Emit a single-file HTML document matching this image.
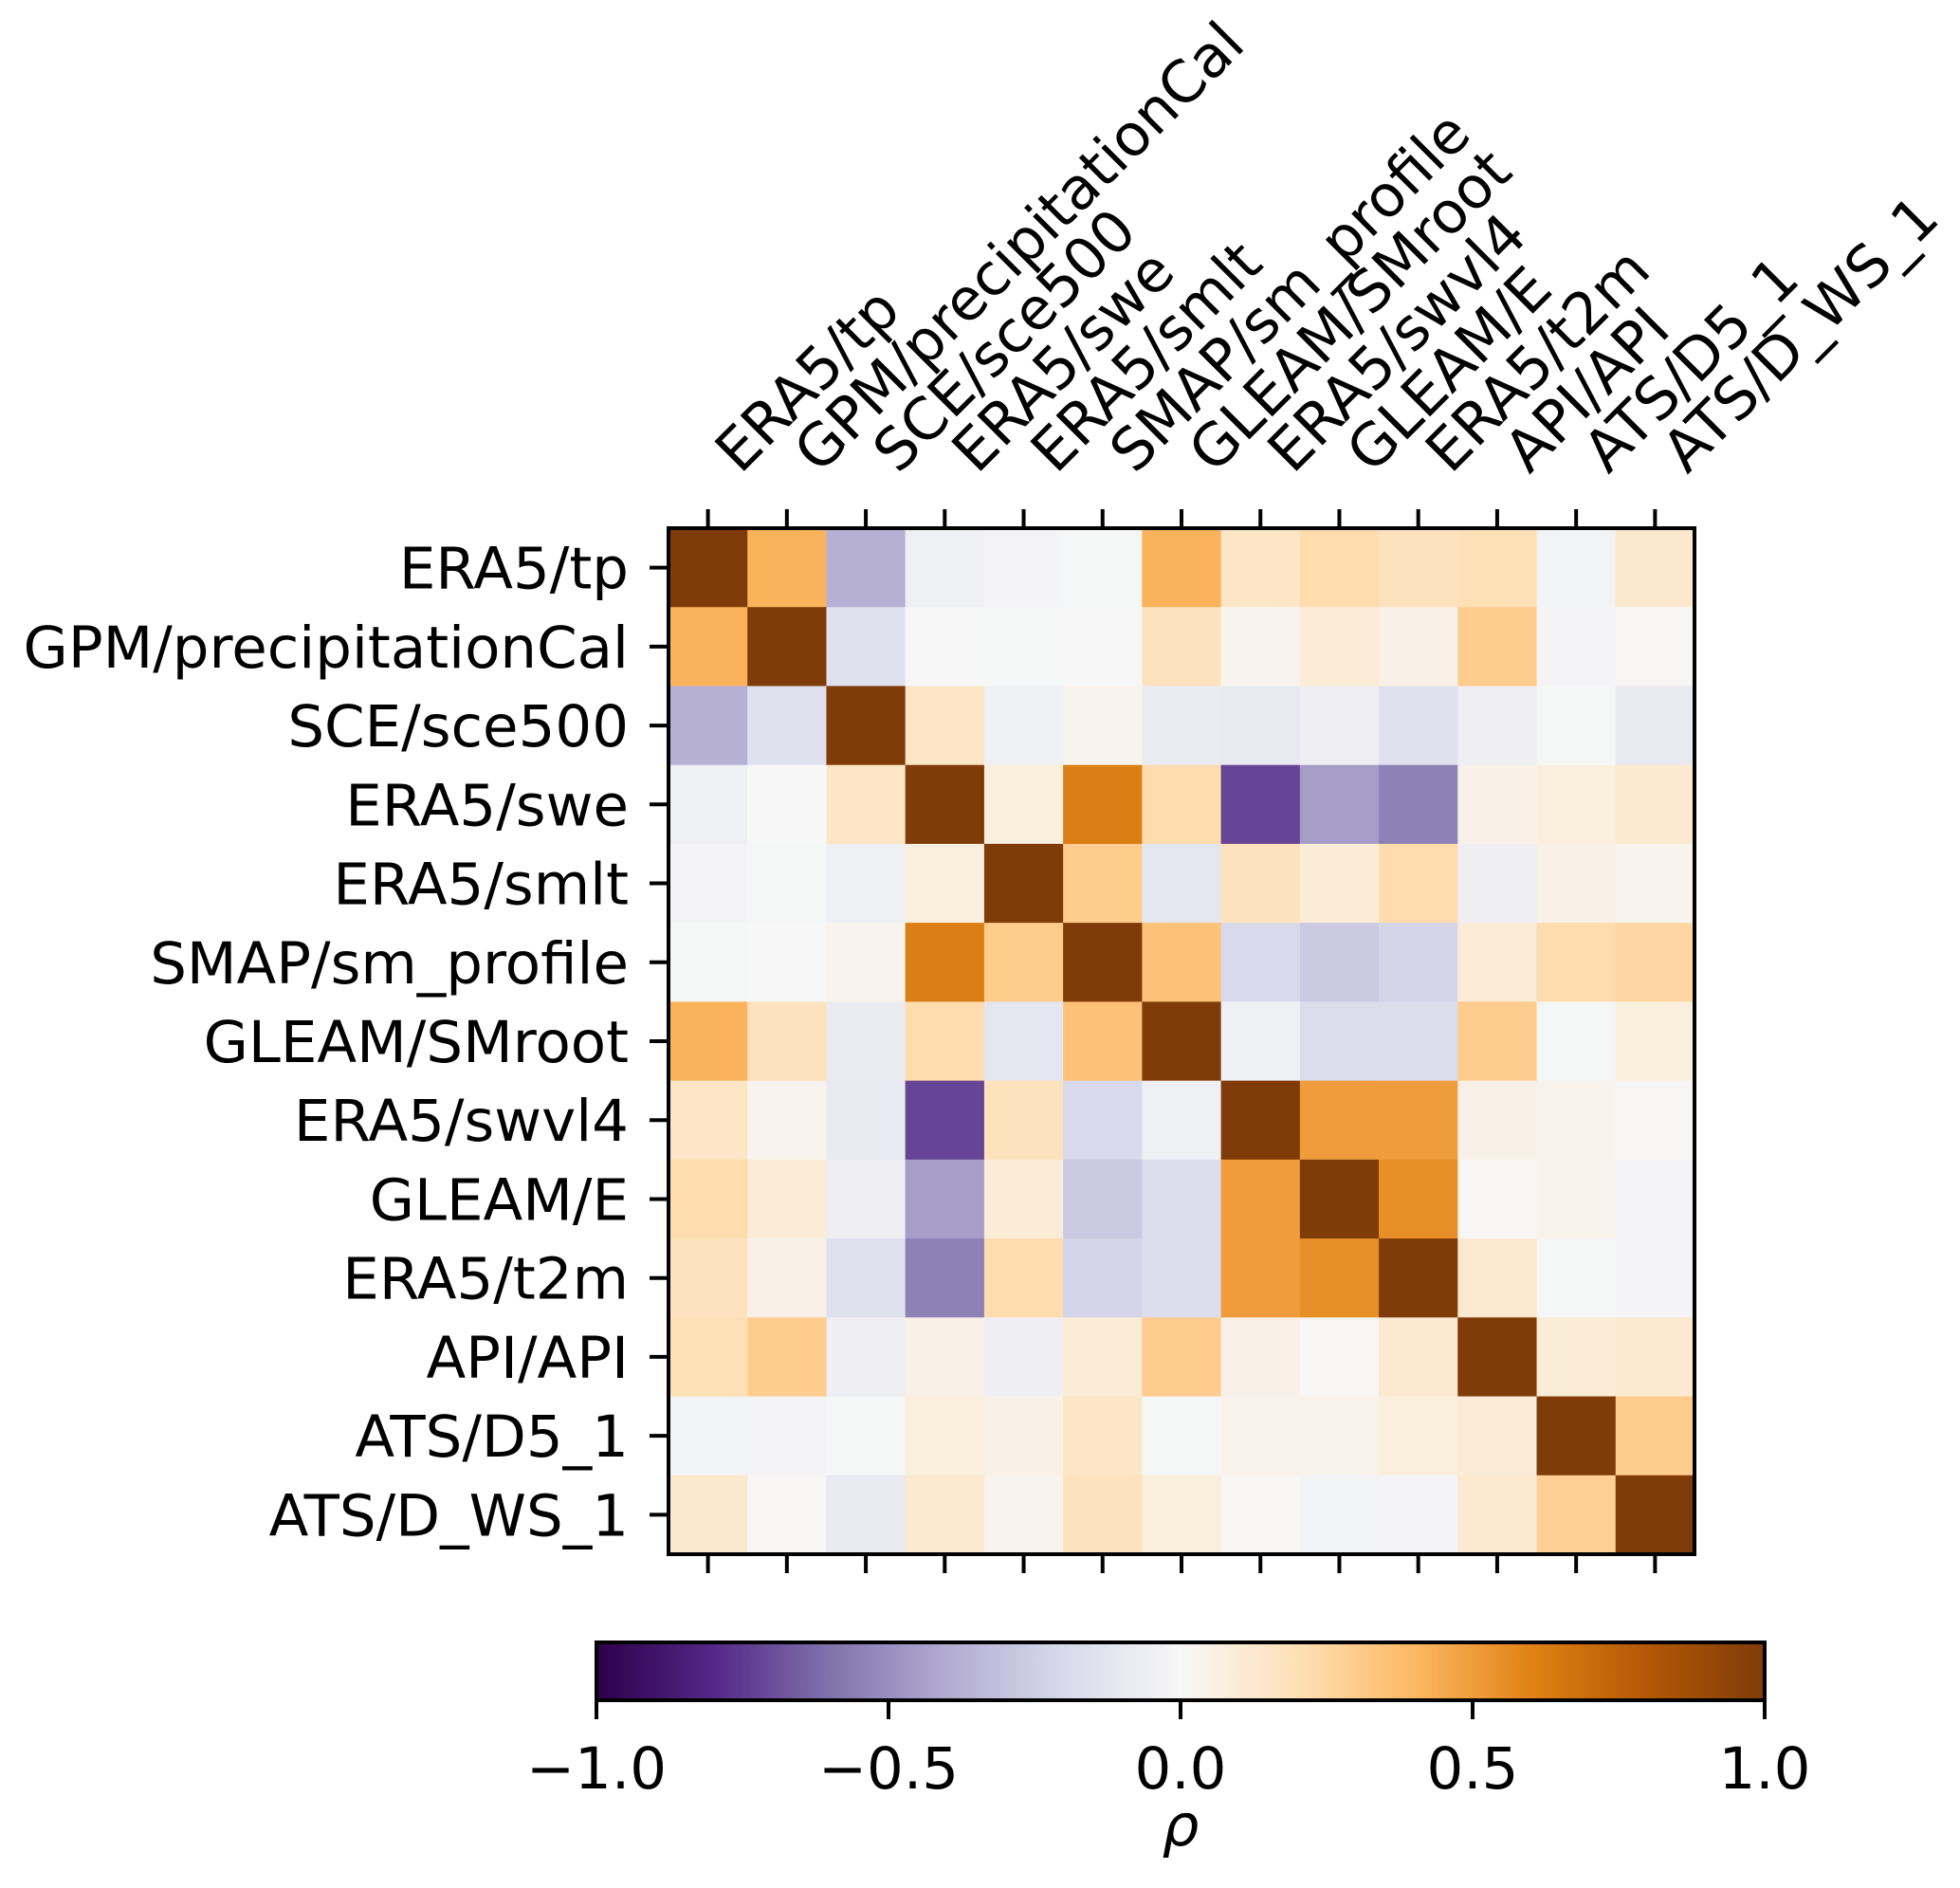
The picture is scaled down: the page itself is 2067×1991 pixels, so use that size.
<!DOCTYPE html>
<html><head><meta charset="utf-8"><style>
html,body{margin:0;padding:0;background:#fff;}
svg{display:block;font-family:"DejaVu Sans","Liberation Sans",sans-serif;}
</style></head><body>
<svg id="chart" width="2067" height="1991" viewBox="0 0 2067 1991" xmlns="http://www.w3.org/2000/svg">
<defs>
<linearGradient id="puor" x1="0" x2="1" y1="0" y2="0">
<stop offset="0" stop-color="#2d004b"/><stop offset="0.1" stop-color="#542788"/><stop offset="0.2" stop-color="#8073ac"/><stop offset="0.3" stop-color="#b2abd2"/><stop offset="0.4" stop-color="#d8daeb"/><stop offset="0.5" stop-color="#f7f7f7"/><stop offset="0.6" stop-color="#fee0b6"/><stop offset="0.7" stop-color="#fdb863"/><stop offset="0.8" stop-color="#e08214"/><stop offset="0.9" stop-color="#b35806"/><stop offset="1" stop-color="#7f3b08"/>
</linearGradient>
</defs>
<g id="cells"></g>
<g id="axes"></g>
<g id="cbar"></g>
</svg>
<script>
const labels = ["ERA5/tp","GPM/precipitationCal","SCE/sce500","ERA5/swe","ERA5/smlt","SMAP/sm_profile","GLEAM/SMroot","ERA5/swvl4","GLEAM/E","ERA5/t2m","API/API","ATS/D5_1","ATS/D_WS_1"];
const row0 = [1,0.42,-0.38,-0.05,-0.02,-0.01,0.42,0.15,0.22,0.18,0.2,-0.03,0.13];
const row1 = [0.42,1,-0.15,0.0,-0.01,0.0,0.18,0.03,0.1,0.05,0.3,-0.02,0.01];
const row2 = [-0.38,-0.15,1,0.15,-0.05,0.03,-0.08,-0.1,-0.06,-0.15,-0.06,-0.01,-0.1];
const row3 = [-0.05,0.0,0.15,1,0.08,0.62,0.22,-0.72,-0.45,-0.55,0.05,0.08,0.12];
const row4 = [-0.02,-0.01,-0.05,0.08,1,0.3,-0.12,0.18,0.1,0.22,-0.06,0.05,0.03];
const row5 = [-0.01,0.0,0.03,0.62,0.3,1,0.35,-0.2,-0.27,-0.22,0.1,0.22,0.25];
const row6 = [0.42,0.18,-0.08,0.22,-0.12,0.35,1,-0.05,-0.18,-0.17,0.3,-0.01,0.08];
const row7 = [0.15,0.03,-0.1,-0.72,0.18,-0.2,-0.05,1,0.5,0.5,0.05,0.04,0.01];
const row8 = [0.22,0.1,-0.06,-0.45,0.1,-0.27,-0.18,0.5,1,0.55,0.01,0.04,-0.02];
const row9 = [0.18,0.05,-0.15,-0.55,0.22,-0.22,-0.17,0.5,0.55,1,0.12,-0.01,-0.02];
const row10 = [0.2,0.3,-0.06,0.05,-0.06,0.1,0.3,0.05,0.01,0.12,1,0.1,0.12];
const row11 = [-0.03,-0.02,-0.01,0.08,0.05,0.15,-0.01,0.04,0.04,0.08,0.1,1,0.3];
const row12 = [0.13,0.01,-0.1,0.12,0.03,0.18,0.08,0.01,-0.03,-0.02,0.12,0.28,1];
const matrix = [row0,row1,row2,row3,row4,row5,row6,row7,row8,row9,row10,row11,row12];
const cbarTicks = [-1.0,-0.5,0.0,0.5,1.0];
const cbarTickLabels = ["\u22121.0","\u22120.5","0.0","0.5","1.0"];

const NS="http://www.w3.org/2000/svg";
const X0=705, Y0=557, SIZE=1082, n=labels.length, cw=SIZE/n;
const FS=61;
const xPos=i=>X0+i*cw, yPos=i=>Y0+i*cw;
const CB_X0=629, CB_X1=1861, CB_Y0=1732, CB_Y1=1793;
const cbX=v=>CB_X0+(v+1)/2*(CB_X1-CB_X0);
const stops=["#2d004b","#542788","#8073ac","#b2abd2","#d8daeb","#f7f7f7","#fee0b6","#fdb863","#e08214","#b35806","#7f3b08"];
function hex(h){return [1,3,5].map(k=>parseInt(h.substr(k,2),16));}
function color(v){
  let t=(Math.max(-1,Math.min(1,v))+1)/2*10; let i=Math.min(9,Math.floor(t)); let f=t-i;
  const a=hex(stops[i]), b=hex(stops[i+1]);
  return "rgb("+a.map((c,k)=>Math.round(c+(b[k]-c)*f)).join(",")+")";
}
function mk(tag,attrs,parent){const e=document.createElementNS(NS,tag);for(const k in attrs)e.setAttribute(k,attrs[k]);parent.appendChild(e);return e;}
const cells=document.getElementById('cells'), axes=document.getElementById('axes'), cbar=document.getElementById('cbar');
matrix.forEach((row,r)=>row.forEach((v,c)=>{
  const e=mk('rect',{x:xPos(c),y:yPos(r),width:cw+0.6,height:cw+0.6,fill:color(v)},cells);
  
  
}));
const fr=mk('rect',{x:X0,y:Y0,width:SIZE,height:SIZE,fill:'none',stroke:'#000','stroke-width':4},axes);


labels.forEach((lab,i)=>{
  const cx=xPos(i)+cw/2, cy=yPos(i)+cw/2;
  const t1=mk('line',{x1:cx,x2:cx,y1:Y0,y2:Y0-20,stroke:'#000','stroke-width':4},axes);
  
  
  const t2=mk('line',{x1:cx,x2:cx,y1:Y0+SIZE,y2:Y0+SIZE+20,stroke:'#000','stroke-width':4},axes);
  
  
  const t3=mk('line',{x1:X0,x2:X0-20,y1:cy,y2:cy,stroke:'#000','stroke-width':4},axes);
  
  
  const yl=mk('text',{x:X0-42,y:cy+22,'text-anchor':'end','font-size':FS,fill:'#000'},axes);
  yl.textContent=lab;
  
  
  const ax=cx+34, ay=501;
  const xl=mk('text',{x:ax,y:ay,'font-size':FS,fill:'#000',transform:'rotate(-45 '+ax+' '+ay+')'},axes);
  xl.textContent=lab;
  
  
});
const cb=mk('rect',{x:CB_X0,y:CB_Y0,width:CB_X1-CB_X0,height:CB_Y1-CB_Y0,fill:'url(#puor)',stroke:'#000','stroke-width':4},cbar);


cbarTicks.forEach((v,i)=>{
  const x=cbX(v);
  const tk=mk('line',{x1:x,x2:x,y1:CB_Y1,y2:CB_Y1+20,stroke:'#000','stroke-width':4},cbar);
  
  
  const tl=mk('text',{x:x,y:1886,'text-anchor':'middle','font-size':FS,fill:'#000'},cbar);
  tl.textContent=cbarTickLabels[i];
  
  
});
const rho=mk('text',{x:(CB_X0+CB_X1)/2,y:1946,'text-anchor':'middle','font-size':FS,'font-style':'italic',fill:'#000'},cbar);
rho.textContent='\u03c1';


</script>
</body></html>
